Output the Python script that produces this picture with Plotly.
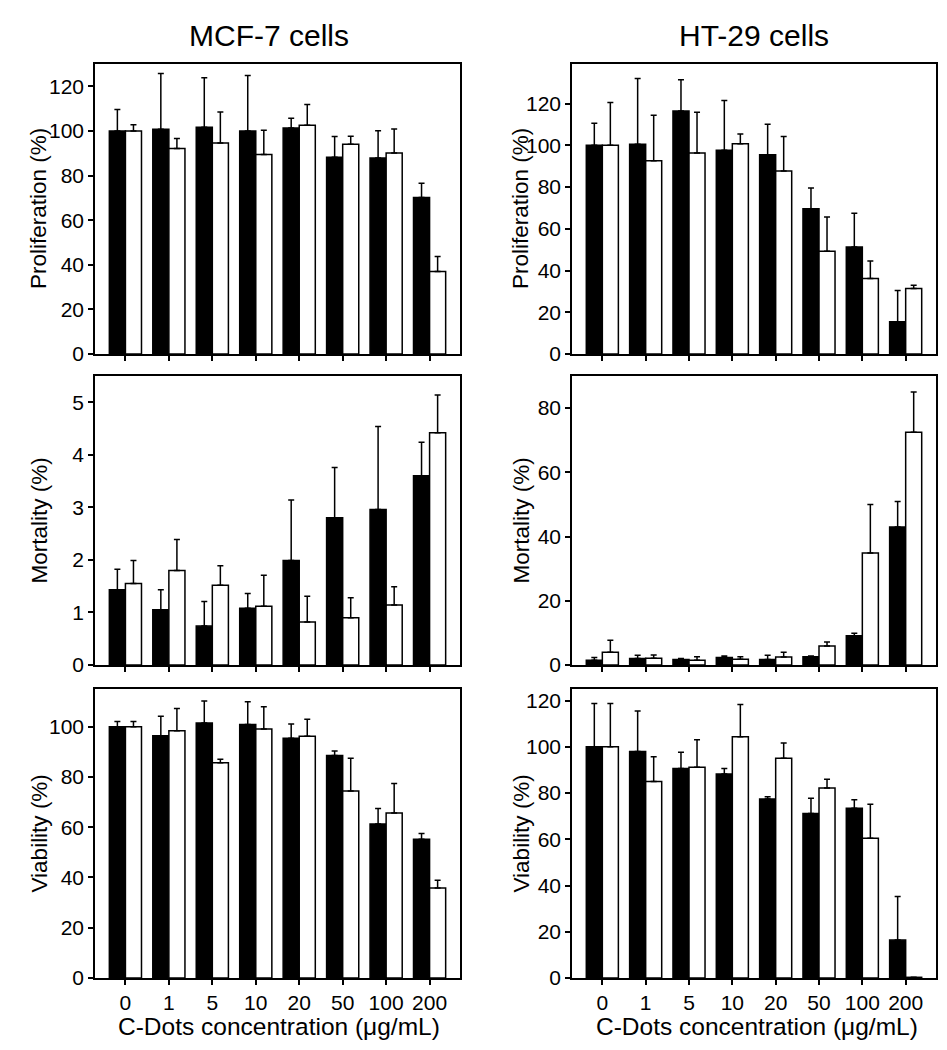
import plotly.graph_objects as go
from plotly.subplots import make_subplots

concentrations = ["0", "1", "5", "10", "20", "50", "100", "200"]

# MCF-7 proliferation
mcf7_prolif_black = [100, 100.7, 101.6, 100, 101.3, 88.2, 87.9, 70.1]
mcf7_prolif_black_err = [9.6, 25.0, 22.2, 24.9, 4.4, 9.3, 12.2, 6.4]
mcf7_prolif_white = [100, 92.1, 94.6, 89.4, 102.5, 94.0, 90.1, 37.0]
mcf7_prolif_white_err = [2.8, 4.5, 13.9, 10.9, 9.3, 3.6, 10.8, 6.7]

# HT-29 proliferation
ht29_prolif_black = [100, 100.5, 116.5, 97.6, 95.5, 69.6, 51.3, 15.4]
ht29_prolif_black_err = [10.6, 31.5, 14.9, 23.9, 14.6, 10.0, 16.2, 15.0]
ht29_prolif_white = [100, 92.6, 96.3, 100.8, 87.7, 49.2, 36.2, 31.4]
ht29_prolif_white_err = [20.5, 21.8, 19.6, 4.6, 16.5, 16.5, 8.4, 1.6]

# MCF-7 mortality
mcf7_mort_black = [1.43, 1.05, 0.74, 1.08, 1.99, 2.80, 2.96, 3.60]
mcf7_mort_black_err = [0.39, 0.38, 0.47, 0.28, 1.15, 0.96, 1.58, 0.64]
mcf7_mort_white = [1.55, 1.80, 1.52, 1.12, 0.82, 0.90, 1.14, 4.42]
mcf7_mort_white_err = [0.44, 0.59, 0.37, 0.59, 0.49, 0.38, 0.35, 0.72]

# HT-29 mortality
ht29_mort_black = [1.5, 2.0, 1.7, 2.3, 1.7, 2.6, 9.1, 43.0]
ht29_mort_black_err = [0.8, 1.0, 0.3, 0.5, 1.3, 0.2, 0.8, 7.9]
ht29_mort_white = [4.0, 2.1, 1.5, 1.8, 2.5, 5.9, 34.9, 72.5]
ht29_mort_white_err = [3.7, 1.0, 1.1, 0.8, 1.5, 1.3, 15.1, 12.5]

# MCF-7 viability
mcf7_via_black = [100, 96.4, 101.5, 100.9, 95.4, 88.5, 61.3, 55.2]
mcf7_via_black_err = [2.1, 7.8, 8.7, 9.0, 5.7, 1.8, 6.1, 2.3]
mcf7_via_white = [100, 98.4, 85.7, 99.1, 96.2, 74.4, 65.7, 35.8]
mcf7_via_white_err = [2.1, 8.8, 1.3, 8.8, 6.8, 13.0, 11.7, 3.1]

# HT-29 viability
ht29_via_black = [100, 98.0, 90.6, 88.2, 77.4, 71.1, 73.4, 16.4]
ht29_via_black_err = [18.7, 17.5, 7.0, 2.4, 1.0, 6.6, 3.7, 18.9]
ht29_via_white = [100, 85.0, 91.2, 104.3, 95.0, 82.2, 60.4, 0.3]
ht29_via_white_err = [18.7, 10.7, 11.8, 14.0, 6.6, 3.8, 14.7, 0.0]

column_titles = ["MCF-7 cells", "HT-29 cells"]
row_titles = ["Proliferation (%)", "Mortality (%)", "Viability (%)"]
x_title = "C-Dots concentration (\u03bcg/mL)"

panels = [
    # (row, col, black, black_err, white, white_err, yrange, dtick)
    (1, 1, mcf7_prolif_black, mcf7_prolif_black_err, mcf7_prolif_white, mcf7_prolif_white_err, [0, 130], 20),
    (1, 2, ht29_prolif_black, ht29_prolif_black_err, ht29_prolif_white, ht29_prolif_white_err, [0, 139], 20),
    (2, 1, mcf7_mort_black, mcf7_mort_black_err, mcf7_mort_white, mcf7_mort_white_err, [0, 5.5], 1),
    (2, 2, ht29_mort_black, ht29_mort_black_err, ht29_mort_white, ht29_mort_white_err, [0, 90], 20),
    (3, 1, mcf7_via_black, mcf7_via_black_err, mcf7_via_white, mcf7_via_white_err, [0, 115], 20),
    (3, 2, ht29_via_black, ht29_via_black_err, ht29_via_white, ht29_via_white_err, [0, 125], 20),
]

W, H = 947, 1050
FONT = "Liberation Sans, Arial, Helvetica, sans-serif"

fig = make_subplots(rows=3, cols=2)

# pixel domains
x_dom = {1: (87, 452), 2: (564, 928)}
y_dom = {1: (56, 346), 2: (368, 657), 3: (681, 970)}

for row, col, blk, blk_err, wht, wht_err, yr, dt in panels:
    for vals, errs, fill in ((blk, blk_err, "black"), (wht, wht_err, "white")):
        fig.add_trace(
            go.Bar(
                x=concentrations,
                y=vals,
                marker=dict(color=fill, line=dict(color="black", width=1.5)),
                error_y=dict(
                    type="data",
                    symmetric=False,
                    array=errs,
                    arrayminus=[0] * len(errs),
                    color="black",
                    thickness=1.5,
                    width=3,
                ),
                showlegend=False,
            ),
            row=row,
            col=col,
        )
    x0, x1 = x_dom[col]
    y0, y1 = y_dom[row]
    fig.update_xaxes(
        type="category",
        domain=[x0 / W, x1 / W],
        range=[-0.7, 7.7],
        showline=True,
        linecolor="black",
        linewidth=1.5,
        mirror=True,
        ticks="outside",
        ticklen=5,
        tickwidth=1.5,
        tickcolor="black",
        showgrid=False,
        zeroline=False,
        showticklabels=(row == 3),
        tickfont=dict(size=21, color="black", family=FONT),
        automargin=False,
        row=row,
        col=col,
    )
    fig.update_yaxes(
        domain=[1 - y1 / H, 1 - y0 / H],
        range=yr,
        dtick=dt,
        tick0=0,
        showline=True,
        linecolor="black",
        linewidth=1.5,
        mirror=True,
        ticks="outside",
        ticklen=5,
        tickwidth=1.5,
        tickcolor="black",
        showgrid=False,
        zeroline=False,
        tickfont=dict(size=21, color="black", family=FONT),
        automargin=False,
        row=row,
        col=col,
    )

annotations = []
# column titles
for cx, t in zip((261, 746), column_titles):
    annotations.append(dict(
        text=t, x=cx / W, y=1 - 28 / H, xref="paper", yref="paper",
        xanchor="center", yanchor="middle", showarrow=False,
        font=dict(size=30, color="black", family=FONT),
    ))
# row titles (y axes)
for r, t in zip((1, 2, 3), row_titles):
    y0, y1 = y_dom[r]
    cy = (y0 + y1) / 2
    for cx in (31, 513):
        annotations.append(dict(
            text=t, x=cx / W, y=1 - cy / H, xref="paper", yref="paper",
            xanchor="center", yanchor="middle", showarrow=False, textangle=-90,
            font=dict(size=22.5, color="black", family=FONT),
        ))
# x-axis titles
for cx in (271, 749):
    annotations.append(dict(
        text=x_title, x=cx / W, y=1 - 1018 / H, xref="paper", yref="paper",
        xanchor="center", yanchor="middle", showarrow=False,
        font=dict(size=24.5, color="black", family=FONT),
    ))

fig.update_layout(
    width=W,
    height=H,
    template="none",
    barmode="group",
    bargap=0.26,
    bargroupgap=0,
    paper_bgcolor="white",
    plot_bgcolor="white",
    margin=dict(l=0, r=0, t=0, b=0),
    showlegend=False,
    annotations=annotations,
    font=dict(family=FONT, color="black"),
)

fig.write_html("out.html")
